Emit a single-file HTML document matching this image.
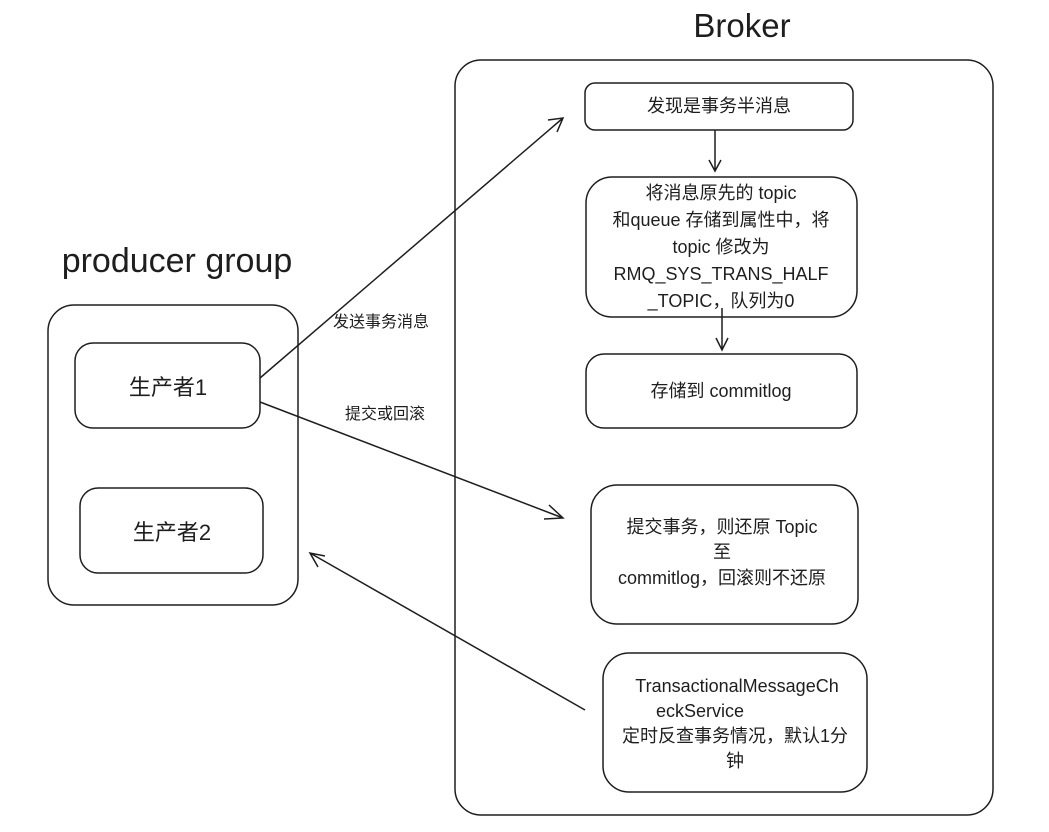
<!DOCTYPE html>
<html><head><meta charset="utf-8"><style>
html,body{margin:0;padding:0;background:#fff;}
svg{display:block}
text{font-family:"Liberation Sans","Noto Sans CJK SC",sans-serif;fill:#1e1e1e;}
</style></head><body>
<svg width="1049" height="832" viewBox="0 0 1049 832" xmlns="http://www.w3.org/2000/svg">
<g fill="none" stroke="#1e1e1e" stroke-width="1.5">
<rect x="455" y="60" width="538" height="755" rx="26"/>
<rect x="585" y="83" width="268" height="47" rx="10"/>
<rect x="586" y="177" width="271" height="140" rx="26"/>
<rect x="586" y="354" width="271" height="74" rx="18"/>
<rect x="591" y="485" width="267" height="139" rx="26"/>
<rect x="603" y="653" width="264" height="139" rx="26"/>
<rect x="48" y="305" width="250" height="300" rx="26"/>
<rect x="75" y="343" width="185" height="85" rx="18"/>
<rect x="80" y="488" width="183" height="85" rx="18"/>
<path d="M715 130 L715 170 M709 160 L715 171 L721 160"/>
<path d="M722 308 L722 349 M716 338 L722 350 L728 338"/>
<path d="M260 378 L563 118 M548 120 L563 118 L557 132"/>
<path d="M260 402 L563 518 M549 505 L563 518 L544 519"/>
<path d="M585 710 L310 553 M325 556 L310 553 L318 567"/>
</g>
<text x="742" y="37" font-size="33" text-anchor="middle">Broker</text>
<text x="177" y="272" font-size="34" text-anchor="middle">producer group</text>
<g font-size="18" text-anchor="middle">
<text x="719" y="112">发现是事务半消息</text>
<text x="721" y="199">将消息原先的 topic</text>
<text x="721" y="226">和queue 存储到属性中，将</text>
<text x="721" y="253">topic 修改为</text>
<text x="721" y="280">RMQ_SYS_TRANS_HALF</text>
<text x="721" y="307">_TOPIC，队列为0</text>
<text x="721" y="397">存储到 commitlog</text>
<text x="722" y="533">提交事务，则还原 Topic</text>
<text x="722" y="558">至</text>
<text x="722" y="584">commitlog，回滚则不还原</text>
<text x="737" y="692">TransactionalMessageCh</text>
<text x="700" y="717">eckService</text>
<text x="735" y="742">定时反查事务情况，默认1分</text>
<text x="735" y="767">钟</text>
</g>
<text x="168" y="395" font-size="22" text-anchor="middle">生产者1</text>
<text x="172" y="540" font-size="22" text-anchor="middle">生产者2</text>
<text x="333" y="327" font-size="16">发送事务消息</text>
<text x="345" y="419" font-size="16">提交或回滚</text>
</svg>
</body></html>
